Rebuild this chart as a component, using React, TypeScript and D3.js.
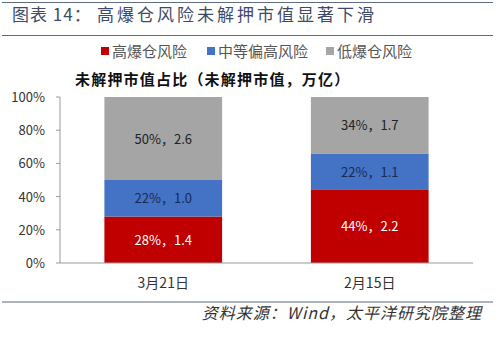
import React from "react";
import * as d3 from "d3";

const categories = ["3月21日", "2月15日"];
const seriesNames = ["高爆仓风险", "中等偏高风险", "低爆仓风险"];
const seriesColors = ["#C00000", "#4472C4", "#A5A5A5"];
const labelColors = ["#FFFFFF", "#1B2A55", "#222222"];
const pctValues = [
  [28, 44],
  [22, 22],
  [50, 34],
];
const amountValues = [
  ["1.4", "2.2"],
  ["1.0", "1.1"],
  ["2.6", "1.7"],
];
const yTicks = [0, 20, 40, 60, 80, 100];

const W = 500;
const H = 341;
const plot = { left: 60, right: 473, top: 97, bottom: 263 };

export default function App() {
  const x = d3
    .scaleBand<string>()
    .domain(categories)
    .range([plot.left, plot.right])
    .paddingInner(0.43)
    .paddingOuter(0.215);
  const y = d3.scaleLinear().domain([0, 100]).range([plot.bottom, plot.top]);

  const stackData = categories.map((c, i) => {
    const o: any = { cat: c };
    seriesNames.forEach((s, k) => (o[s] = pctValues[k][i]));
    return o;
  });
  const stacked = d3.stack<any>().keys(seriesNames)(stackData);

  const font = "'Noto Sans CJK SC', 'Liberation Sans', sans-serif";
  const lineColor = "#5F6B80";

  const legendX = [101, 207, 326];

  return (
    <svg
      width={W}
      height={H}
      style={{ position: "absolute", left: 0, top: 0, background: "#fff" }}
      fontFamily={font}
    >
      <line x1={2} x2={493} y1={2.5} y2={2.5} stroke={lineColor} strokeWidth={1.2} />
      <text y={21} fontSize={17} fill="#3E4B68">
        <tspan x={12} letterSpacing={1}>图表 14：</tspan>
        <tspan x={97} letterSpacing={3}>高爆仓风险未解押市值显著下滑</tspan>
      </text>
      <line x1={2} x2={493} y1={35.5} y2={35.5} stroke={lineColor} strokeWidth={1.2} />

      {seriesNames.map((s, k) => (
        <g key={s}>
          <rect x={legendX[k]} y={47} width={8} height={8} fill={seriesColors[k]} />
          <text x={legendX[k] + 11} y={57} fontSize={15} fill="#555">
            {s}
          </text>
        </g>
      ))}

      <text x={75} y={85} fontSize={15} fontWeight="bold" letterSpacing={1.2} fill="#111">
        未解押市值占比（未解押市值，万亿）
      </text>

      {stacked.map((layer, k) => (
        <g key={layer.key}>
          {layer.map((d, i) => {
            const bx = x(categories[i])!;
            const y0 = y(d[0]);
            const y1 = y(d[1]);
            return (
              <g key={i}>
                <rect
                  x={bx}
                  y={y1}
                  width={x.bandwidth()}
                  height={y0 - y1}
                  fill={seriesColors[k]}
                />
                <text
                  x={bx + x.bandwidth() / 2}
                  y={(y0 + y1) / 2 + 5}
                  textAnchor="middle"
                  fontSize={13}
                  fill={labelColors[k]}
                >
                  {`${pctValues[k][i]}%，${amountValues[k][i]}`}
                </text>
              </g>
            );
          })}
        </g>
      ))}

      <line x1={plot.left} x2={plot.left} y1={plot.top} y2={plot.bottom} stroke="#999" />
      <line x1={plot.left} x2={plot.right} y1={plot.bottom} y2={plot.bottom} stroke="#999" />
      {yTicks.map((t) => (
        <g key={t}>
          <line x1={plot.left - 4} x2={plot.left} y1={y(t)} y2={y(t)} stroke="#999" />
          <text x={45} y={y(t) + 5} textAnchor="end" fontSize={13} fill="#333">
            {t}%
          </text>
        </g>
      ))}
      {categories.map((c) => (
        <text
          key={c}
          x={x(c)! + x.bandwidth() / 2}
          y={288}
          textAnchor="middle"
          fontSize={14}
          fill="#333"
        >
          {c}
        </text>
      ))}

      <line x1={2} x2={493} y1={302} y2={302} stroke={lineColor} strokeWidth={1.2} />
      <text
        x={482}
        y={319}
        textAnchor="end"
        fontSize={16}
        fontStyle="italic"
        letterSpacing={1}
        fill="#333"
      >
        资料来源：Wind，太平洋研究院整理
      </text>
    </svg>
  );
}
